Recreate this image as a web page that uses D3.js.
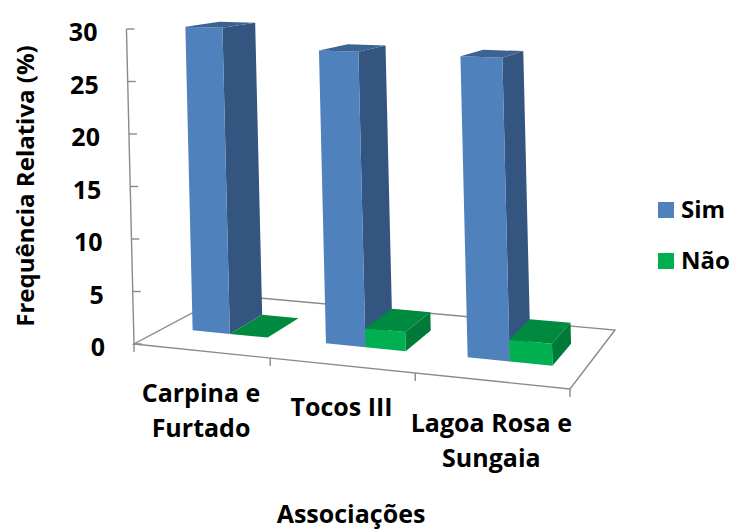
<!DOCTYPE html>
<html>
<head>
<meta charset="utf-8">
<script src="https://cdn.jsdelivr.net/npm/d3@7"></script>
<style>
  body { margin: 0; background: #fff; }
  text { font-family: "Open Sans", Lato, sans-serif; font-weight: 700; fill: #000; }
</style>
</head>
<body>
<svg id="chart" width="732" height="530"></svg>
<script>
// Relative frequency (%) of "Sim"/"Não" answers per association
const categories = ["Carpina e Furtado", "Tocos III", "Lagoa Rosa e Sungaia"];
const seriesNames = ["Sim", "Não"];
const simValues = [29.9, 28.0, 27.9];
const naoValues = [0, 1.8, 2.0];
const yTicks = [0, 5, 10, 15, 20, 25, 30];

const seriesValues = { "Sim": simValues, "Não": naoValues };
const palette = {
  "Sim": { front: "#4F81BD", side: "#34557F", top: "#3D6392", legend: "#4F81BD" },
  "Não": { front: "#00B050", side: "#007A38", top: "#008A3F", legend: "#00B050" }
};

const svg = d3.select("#chart");
const axisColor = "#8a8a8a";

// Floor of the 3D plot: screen corners of the unit square (u = category, v = depth)
const floor = [[134, 344], [570, 389], [615, 330], [226, 295]];

// Perspective (homography) mapping of the floor square onto the screen
function makeHomography(q) {
  const [[x0, y0], [x1, y1], [x2, y2], [x3, y3]] = q;
  const dx1 = x1 - x2, dx2 = x3 - x2, dx3 = x0 - x1 + x2 - x3;
  const dy1 = y1 - y2, dy2 = y3 - y2, dy3 = y0 - y1 + y2 - y3;
  const den = dx1 * dy2 - dx2 * dy1;
  const g = (dx3 * dy2 - dx2 * dy3) / den;
  const h = (dx1 * dy3 - dx3 * dy1) / den;
  return {
    a: x1 - x0 + g * x1, b: x3 - x0 + h * x3, c: x0,
    d: y1 - y0 + g * y1, e: y3 - y0 + h * y3, f: y0, g, h
  };
}
const H = makeHomography(floor);

// Value scale gives the vertical extent at the front-left corner (w = 1)
const yScale = d3.scaleLinear().domain([0, 30]).range([0, 315]);
const shear = -0.024;

function project(u, v, val) {
  const w = 1 + H.g * u + H.h * v;
  const x = (H.a * u + H.b * v + H.c) / w;
  const y = (H.d * u + H.e * v + H.f) / w;
  const hp = yScale(val) / w;
  return [x + shear * hp, y - hp];
}

// Category and series positions along the floor
const x0 = d3.scaleBand().domain(categories).range([0, 1]);
const x1 = d3.scaleBand().domain(seriesNames).range([0, x0.bandwidth()])
  .paddingInner(0).paddingOuter(0.754);
const depthFront = 0.31, depthBack = 0.69;

// Floor outline
const floorLine = d3.line();
svg.append("path")
  .attr("d", floorLine([project(0, 0, 0), project(1, 0, 0), project(1, 1, 0), project(0, 1, 0)]) + "Z")
  .attr("fill", "none").attr("stroke", axisColor).attr("stroke-width", 1.4);

// Category tick marks on the front edge
[0, 1, 2, 3].forEach(i => {
  const u = i / categories.length;
  const p = project(u, 0, 0);
  svg.append("line")
    .attr("x1", p[0]).attr("y1", p[1]).attr("x2", p[0]).attr("y2", p[1] + 8)
    .attr("stroke", axisColor).attr("stroke-width", 1.4);
});

// Value axis on the front-left corner
const aBottom = project(0, 0, 0), aTop = project(0, 0, 30);
svg.append("line")
  .attr("x1", aBottom[0]).attr("y1", aBottom[1]).attr("x2", aTop[0]).attr("y2", aTop[1])
  .attr("stroke", axisColor).attr("stroke-width", 1.4);
yTicks.forEach(t => {
  const p = project(0, 0, t);
  svg.append("line")
    .attr("x1", p[0]).attr("y1", p[1]).attr("x2", p[0] + 8).attr("y2", p[1])
    .attr("stroke", axisColor).attr("stroke-width", 1.4);
  svg.append("text")
    .attr("x", p[0] - 29).attr("y", p[1] + 2)
    .attr("text-anchor", "end").attr("dominant-baseline", "central")
    .style("font-size", "25px")
    .text(t);
});

// 3D bars: drawn left to right so nearer right-hand faces overlap correctly
const poly = pts => d3.line()(pts) + "Z";
categories.forEach((cat, ci) => {
  seriesNames.forEach(s => {
    const val = seriesValues[s][ci];
    const uL = x0(cat) + x1(s), uR = uL + x1.bandwidth();
    const col = palette[s];
    const g = svg.append("g");
    if (val > 0) {
      g.append("path").attr("fill", col.side)
        .attr("d", poly([project(uR, depthFront, 0), project(uR, depthBack, 0),
                         project(uR, depthBack, val), project(uR, depthFront, val)]));
      g.append("path").attr("fill", col.front)
        .attr("d", poly([project(uL, depthFront, 0), project(uR, depthFront, 0),
                         project(uR, depthFront, val), project(uL, depthFront, val)]));
    }
    g.append("path").attr("fill", col.top)
      .attr("d", poly([project(uL, depthFront, val), project(uR, depthFront, val),
                       project(uR, depthBack, val), project(uL, depthBack, val)]));
  });
});

// Category labels, wrapped after " e "
categories.forEach(cat => {
  const uc = x0(cat) + x0.bandwidth() / 2;
  const p = project(uc, 0, 0);
  const lines = cat.replace(" e ", " e\n").split("\n");
  const t = svg.append("text").attr("text-anchor", "middle").style("font-size", "25px");
  lines.forEach((ln, i) => {
    t.append("tspan").attr("x", p[0]).attr("y", p[1] + 51 + i * 35).text(ln);
  });
});

// Axis titles
svg.append("text")
  .attr("x", 351).attr("y", 523).attr("text-anchor", "middle")
  .style("font-size", "25px").text("Associações");
svg.append("text")
  .attr("transform", "translate(34,186) rotate(-90)").attr("text-anchor", "middle")
  .style("font-size", "24px").text("Frequência Relativa (%)");

// Legend
const legend = svg.append("g");
seriesNames.forEach((s, i) => {
  const y = 202 + i * 51;
  legend.append("rect").attr("x", 658).attr("y", y).attr("width", 16).attr("height", 16)
    .attr("fill", palette[s].legend);
  legend.append("text").attr("x", 681).attr("y", y + 16)
    .style("font-size", "24px").text(s);
});
</script>
</body>
</html>
